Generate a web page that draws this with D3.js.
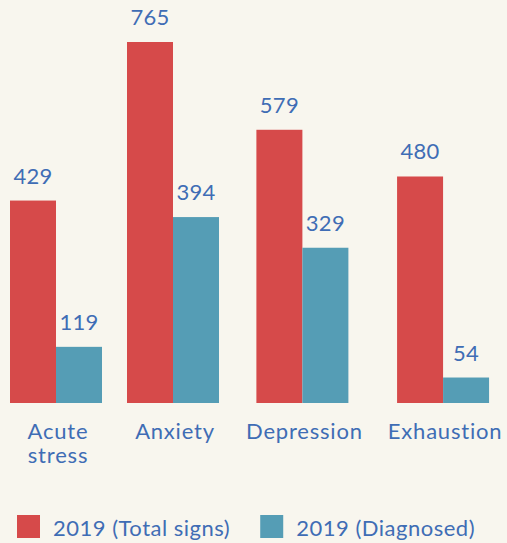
<!DOCTYPE html>
<html>
<head>
<meta charset="utf-8">
<script src="https://cdn.jsdelivr.net/npm/d3@7"></script>
<style>
  html, body { margin: 0; padding: 0; background: #f8f6ee; }
  svg { display: block; font-family: Lato, "Open Sans", sans-serif; font-weight: 400; }
</style>
</head>
<body>
<div id="chart"></div>
<script>
let categories = ["Acute stress", "Anxiety", "Depression", "Exhaustion"];
let tickLines = [["Acute", "stress"], ["Anxiety"], ["Depression"], ["Exhaustion"]];
let seriesNames = ["2019 (Total signs)", "2019 (Diagnosed)"];
let totalSigns = [429, 765, 579, 480];
let diagnosed = [119, 394, 329, 54];

let W = 507, H = 543;
let BASE = 403, TOP = 42;
let BAR_W = 46, GAP = 25, LEFT = 10;
let colors = ["#d64a4a", "#559db5"];
let textColor = "#3f6db5";

let svg = d3.select("#chart").append("svg")
    .attr("width", W)
    .attr("height", H);

let rows = categories.map((c, i) => ({ cat: c, lines: tickLines[i], values: [totalSigns[i], diagnosed[i]] }));

let y = d3.scaleLinear()
    .domain([0, d3.max(rows, d => d3.max(d.values))])
    .range([BASE, TOP]);

// tick labels first, so each group can be as wide as its label (flex-like)
let ticks = svg.append("g").attr("class", "ticks")
    .selectAll("text")
    .data(rows)
    .join("text")
    .attr("fill", textColor)
    .attr("font-size", 22)
    .attr("letter-spacing", 0.8)
    .attr("text-anchor", "middle");
ticks.selectAll("tspan")
    .data(d => d.lines)
    .join("tspan")
    .attr("x", 0)
    .attr("y", (d, i) => 439 + i * 24)
    .text(d => d);

let x = LEFT;
ticks.each(function (d) {
    let w = Math.max(BAR_W * 2, this.getBBox().width);
    d.center = x + w / 2;
    x += w + GAP;
});
ticks.attr("transform", d => `translate(${d.center + 2},0)`);

let inner = d3.scaleBand().domain([0, 1]).range([-BAR_W, BAR_W]);

let groups = svg.append("g").selectAll("g")
    .data(rows)
    .join("g")
    .attr("transform", d => `translate(${d.center},0)`);

groups.selectAll("rect")
    .data(d => d.values)
    .join("rect")
    .attr("x", (v, i) => inner(i))
    .attr("width", inner.bandwidth())
    .attr("y", v => y(v))
    .attr("height", v => BASE - y(v))
    .attr("fill", (v, i) => colors[i]);

groups.selectAll("text")
    .data(d => d.values)
    .join("text")
    .attr("x", (v, i) => inner(i) + inner.bandwidth() / 2)
    .attr("y", v => y(v) - 17)
    .attr("text-anchor", "middle")
    .attr("font-size", 22)
    .attr("letter-spacing", 0.3)
    .attr("fill", textColor)
    .text(v => v);

// legend
let legend = svg.append("g");
let lx = 17;
seriesNames.forEach((name, i) => {
    let item = legend.append("g").attr("transform", `translate(${lx},515)`);
    item.append("rect").attr("width", 23).attr("height", 23).attr("fill", colors[i]);
    let t = item.append("text")
        .attr("x", 36)
        .attr("y", 21)
        .attr("font-size", 22)
        .attr("letter-spacing", 0.5)
        .attr("fill", textColor)
        .text(name);
    lx += 36 + t.node().getComputedTextLength() + 30;
});
</script>
</body>
</html>
